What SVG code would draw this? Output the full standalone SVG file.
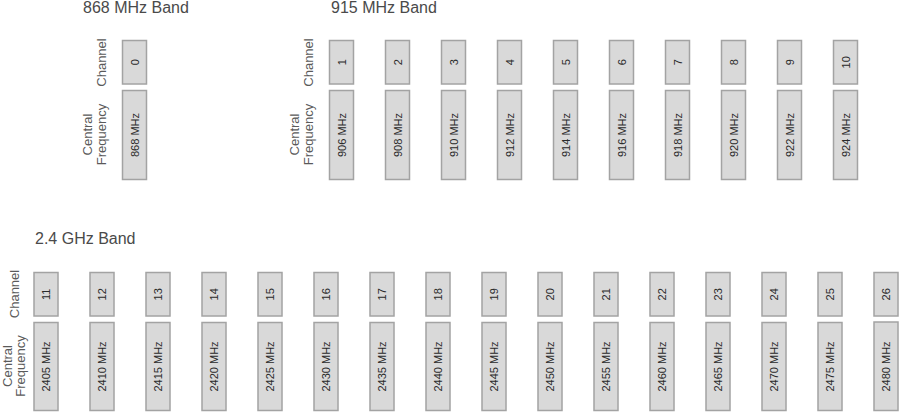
<svg xmlns="http://www.w3.org/2000/svg" width="899" height="412" viewBox="0 0 899 412">
<style>
.bg{fill:#ffffff}
.title{font-family:"Liberation Sans",Arial,sans-serif;font-size:16px;fill:#4a4a4a}
.lbl{font-family:"Liberation Sans",Arial,sans-serif;font-size:13px;fill:#5a5a5a;text-anchor:middle}
.box{fill:#d9d9d9;stroke:#a3a3a3;stroke-width:1.5}
.bt{font-family:"Liberation Sans",Arial,sans-serif;font-size:11px;fill:#2a2a2a;text-anchor:middle;dominant-baseline:central}
</style>
<rect class="bg" x="0" y="0" width="899" height="412"/>
<g id="titles">
<text class="title" x="83" y="13">868 MHz Band</text>
<text class="title" x="331" y="13">915 MHz Band</text>
<text class="title" x="35" y="244">2.4 GHz Band</text>
</g>
<g id="labels">
<text class="lbl" transform="translate(106,62.5) rotate(-90)">Channel</text>
<text class="lbl" transform="translate(92,134.5) rotate(-90)">Central</text>
<text class="lbl" transform="translate(106,134.5) rotate(-90)">Frequency</text>
<text class="lbl" transform="translate(313,62.5) rotate(-90)">Channel</text>
<text class="lbl" transform="translate(299,134.5) rotate(-90)">Central</text>
<text class="lbl" transform="translate(313,134.5) rotate(-90)">Frequency</text>
<text class="lbl" transform="translate(19,294) rotate(-90)">Channel</text>
<text class="lbl" transform="translate(11.5,366) rotate(-90)">Central</text>
<text class="lbl" transform="translate(25,366) rotate(-90)">Frequency</text>
</g>
<g id="ch0"><rect class="box" x="122.5" y="40.5" width="24" height="43.5"/><text class="bt" transform="translate(134.5,62.3) rotate(-90)">0</text><rect class="box" x="122.5" y="90.5" width="24" height="89"/><text class="bt" transform="translate(134.5,135) rotate(-90)">868 MHz</text></g>
<g id="ch1"><rect class="box" x="329.5" y="40.5" width="24" height="43.5"/><text class="bt" transform="translate(341.5,62.3) rotate(-90)">1</text><rect class="box" x="329.5" y="90.5" width="24" height="89"/><text class="bt" transform="translate(341.5,135) rotate(-90)">906 MHz</text></g>
<g id="ch2"><rect class="box" x="385.5" y="40.5" width="24" height="43.5"/><text class="bt" transform="translate(397.5,62.3) rotate(-90)">2</text><rect class="box" x="385.5" y="90.5" width="24" height="89"/><text class="bt" transform="translate(397.5,135) rotate(-90)">908 MHz</text></g>
<g id="ch3"><rect class="box" x="441.5" y="40.5" width="24" height="43.5"/><text class="bt" transform="translate(453.5,62.3) rotate(-90)">3</text><rect class="box" x="441.5" y="90.5" width="24" height="89"/><text class="bt" transform="translate(453.5,135) rotate(-90)">910 MHz</text></g>
<g id="ch4"><rect class="box" x="497.5" y="40.5" width="24" height="43.5"/><text class="bt" transform="translate(509.5,62.3) rotate(-90)">4</text><rect class="box" x="497.5" y="90.5" width="24" height="89"/><text class="bt" transform="translate(509.5,135) rotate(-90)">912 MHz</text></g>
<g id="ch5"><rect class="box" x="553.5" y="40.5" width="24" height="43.5"/><text class="bt" transform="translate(565.5,62.3) rotate(-90)">5</text><rect class="box" x="553.5" y="90.5" width="24" height="89"/><text class="bt" transform="translate(565.5,135) rotate(-90)">914 MHz</text></g>
<g id="ch6"><rect class="box" x="609.5" y="40.5" width="24" height="43.5"/><text class="bt" transform="translate(621.5,62.3) rotate(-90)">6</text><rect class="box" x="609.5" y="90.5" width="24" height="89"/><text class="bt" transform="translate(621.5,135) rotate(-90)">916 MHz</text></g>
<g id="ch7"><rect class="box" x="665.5" y="40.5" width="24" height="43.5"/><text class="bt" transform="translate(677.5,62.3) rotate(-90)">7</text><rect class="box" x="665.5" y="90.5" width="24" height="89"/><text class="bt" transform="translate(677.5,135) rotate(-90)">918 MHz</text></g>
<g id="ch8"><rect class="box" x="721.5" y="40.5" width="24" height="43.5"/><text class="bt" transform="translate(733.5,62.3) rotate(-90)">8</text><rect class="box" x="721.5" y="90.5" width="24" height="89"/><text class="bt" transform="translate(733.5,135) rotate(-90)">920 MHz</text></g>
<g id="ch9"><rect class="box" x="777.5" y="40.5" width="24" height="43.5"/><text class="bt" transform="translate(789.5,62.3) rotate(-90)">9</text><rect class="box" x="777.5" y="90.5" width="24" height="89"/><text class="bt" transform="translate(789.5,135) rotate(-90)">922 MHz</text></g>
<g id="ch10"><rect class="box" x="833.5" y="40.5" width="24" height="43.5"/><text class="bt" transform="translate(845.5,62.3) rotate(-90)">10</text><rect class="box" x="833.5" y="90.5" width="24" height="89"/><text class="bt" transform="translate(845.5,135) rotate(-90)">924 MHz</text></g>
<g id="ch11"><rect class="box" x="34" y="272.5" width="24" height="43.5"/><text class="bt" transform="translate(46,294.3) rotate(-90)">11</text><rect class="box" x="34" y="322.5" width="24" height="88"/><text class="bt" transform="translate(46,366.5) rotate(-90)">2405 MHz</text></g>
<g id="ch12"><rect class="box" x="90" y="272.5" width="24" height="43.5"/><text class="bt" transform="translate(102,294.3) rotate(-90)">12</text><rect class="box" x="90" y="322.5" width="24" height="88"/><text class="bt" transform="translate(102,366.5) rotate(-90)">2410 MHz</text></g>
<g id="ch13"><rect class="box" x="146" y="272.5" width="24" height="43.5"/><text class="bt" transform="translate(158,294.3) rotate(-90)">13</text><rect class="box" x="146" y="322.5" width="24" height="88"/><text class="bt" transform="translate(158,366.5) rotate(-90)">2415 MHz</text></g>
<g id="ch14"><rect class="box" x="202" y="272.5" width="24" height="43.5"/><text class="bt" transform="translate(214,294.3) rotate(-90)">14</text><rect class="box" x="202" y="322.5" width="24" height="88"/><text class="bt" transform="translate(214,366.5) rotate(-90)">2420 MHz</text></g>
<g id="ch15"><rect class="box" x="258" y="272.5" width="24" height="43.5"/><text class="bt" transform="translate(270,294.3) rotate(-90)">15</text><rect class="box" x="258" y="322.5" width="24" height="88"/><text class="bt" transform="translate(270,366.5) rotate(-90)">2425 MHz</text></g>
<g id="ch16"><rect class="box" x="314" y="272.5" width="24" height="43.5"/><text class="bt" transform="translate(326,294.3) rotate(-90)">16</text><rect class="box" x="314" y="322.5" width="24" height="88"/><text class="bt" transform="translate(326,366.5) rotate(-90)">2430 MHz</text></g>
<g id="ch17"><rect class="box" x="370" y="272.5" width="24" height="43.5"/><text class="bt" transform="translate(382,294.3) rotate(-90)">17</text><rect class="box" x="370" y="322.5" width="24" height="88"/><text class="bt" transform="translate(382,366.5) rotate(-90)">2435 MHz</text></g>
<g id="ch18"><rect class="box" x="426" y="272.5" width="24" height="43.5"/><text class="bt" transform="translate(438,294.3) rotate(-90)">18</text><rect class="box" x="426" y="322.5" width="24" height="88"/><text class="bt" transform="translate(438,366.5) rotate(-90)">2440 MHz</text></g>
<g id="ch19"><rect class="box" x="482" y="272.5" width="24" height="43.5"/><text class="bt" transform="translate(494,294.3) rotate(-90)">19</text><rect class="box" x="482" y="322.5" width="24" height="88"/><text class="bt" transform="translate(494,366.5) rotate(-90)">2445 MHz</text></g>
<g id="ch20"><rect class="box" x="538" y="272.5" width="24" height="43.5"/><text class="bt" transform="translate(550,294.3) rotate(-90)">20</text><rect class="box" x="538" y="322.5" width="24" height="88"/><text class="bt" transform="translate(550,366.5) rotate(-90)">2450 MHz</text></g>
<g id="ch21"><rect class="box" x="594" y="272.5" width="24" height="43.5"/><text class="bt" transform="translate(606,294.3) rotate(-90)">21</text><rect class="box" x="594" y="322.5" width="24" height="88"/><text class="bt" transform="translate(606,366.5) rotate(-90)">2455 MHz</text></g>
<g id="ch22"><rect class="box" x="650" y="272.5" width="24" height="43.5"/><text class="bt" transform="translate(662,294.3) rotate(-90)">22</text><rect class="box" x="650" y="322.5" width="24" height="88"/><text class="bt" transform="translate(662,366.5) rotate(-90)">2460 MHz</text></g>
<g id="ch23"><rect class="box" x="706" y="272.5" width="24" height="43.5"/><text class="bt" transform="translate(718,294.3) rotate(-90)">23</text><rect class="box" x="706" y="322.5" width="24" height="88"/><text class="bt" transform="translate(718,366.5) rotate(-90)">2465 MHz</text></g>
<g id="ch24"><rect class="box" x="762" y="272.5" width="24" height="43.5"/><text class="bt" transform="translate(774,294.3) rotate(-90)">24</text><rect class="box" x="762" y="322.5" width="24" height="88"/><text class="bt" transform="translate(774,366.5) rotate(-90)">2470 MHz</text></g>
<g id="ch25"><rect class="box" x="818" y="272.5" width="24" height="43.5"/><text class="bt" transform="translate(830,294.3) rotate(-90)">25</text><rect class="box" x="818" y="322.5" width="24" height="88"/><text class="bt" transform="translate(830,366.5) rotate(-90)">2475 MHz</text></g>
<g id="ch26"><rect class="box" x="874" y="272.5" width="24" height="43.5"/><text class="bt" transform="translate(886,294.3) rotate(-90)">26</text><rect class="box" x="874" y="322" width="24" height="88.5"/><text class="bt" transform="translate(886,366.5) rotate(-90)">2480 MHz</text></g>
</svg>
